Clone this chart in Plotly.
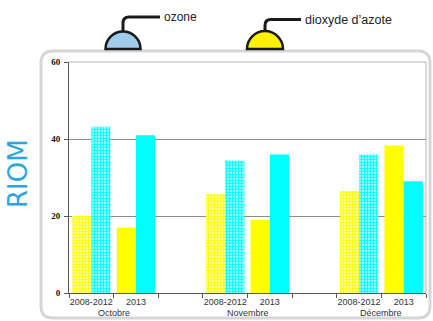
import plotly.graph_objects as go

# Monthly means at RIOM, µg/m³
months = ["Octobre", "Novembre", "Décembre"]
periods = ["2008-2012", "2013"]
no2_2008_2012 = [20, 25.7, 26.5]
no2_2013 = [17, 19, 38.3]
ozone_2008_2012 = [43.2, 34.4, 36]
ozone_2013 = [41, 36, 29]
y_ticks = [0, 20, 40, 60]

YELLOW = "#ffff00"
CYAN = "#00ffff"

# figure geometry (pixels) used to place decorations in paper coordinates
FIG_W, FIG_H = 433, 321
M_L, M_R, M_T, M_B = 69, 7, 62, 28
PW = FIG_W - M_L - M_R
PH = FIG_H - M_T - M_B


def px(x):
    return (x - M_L) / PW


def py(y):
    return (FIG_H - M_B - y) / PH


def path(points):
    # points: list of (cmd, [(x, y), ...]) in pixels
    out = []
    for cmd, pts in points:
        out.append(cmd + " ".join(f"{px(a):.5f},{py(b):.5f}" for a, b in pts))
    return " ".join(out)


# one slot per period, one empty slot between months
x_pos, no2_vals, oz_vals, shapes_pat, tick_text = [], [], [], [], []
for i, m in enumerate(months):
    for j, p in enumerate(periods):
        x_pos.append(3 * i + j + 0.5)
        tick_text.append(p)
        if p == "2013":
            no2_vals.append(no2_2013[i])
            oz_vals.append(ozone_2013[i])
            shapes_pat.append("")
        else:
            no2_vals.append(no2_2008_2012[i])
            oz_vals.append(ozone_2008_2012[i])
            shapes_pat.append(".")


def pattern(color):
    return dict(shape=shapes_pat, fgcolor=color, bgcolor="white",
                size=3, solidity=0.7, fillmode="replace")


fig = go.Figure()
fig.add_trace(go.Bar(x=x_pos, y=no2_vals, name="dioxyde d’azote",
                     marker=dict(color=YELLOW, line=dict(width=0), pattern=pattern(YELLOW))))
fig.add_trace(go.Bar(x=x_pos, y=oz_vals, name="ozone",
                     marker=dict(color=CYAN, line=dict(width=0), pattern=pattern(CYAN))))

shapes = []
# outer rounded frame
x0, x1, y0, y1, r = 41, 430, 51, 318, 12
shapes.append(dict(type="path", xref="paper", yref="paper", layer="below",
                   line=dict(color="#d6d6d6", width=3),
                   path=path([("M", [(x0 + r, y0)]), ("L", [(x1 - r, y0)]),
                              ("Q", [(x1, y0), (x1, y0 + r)]), ("L", [(x1, y1 - r)]),
                              ("Q", [(x1, y1), (x1 - r, y1)]), ("L", [(x0 + r, y1)]),
                              ("Q", [(x0, y1), (x0, y1 - r)]), ("L", [(x0, y0 + r)]),
                              ("Q", [(x0, y0), (x0 + r, y0)])])))
# thin plot border (top / right)
shapes.append(dict(type="path", xref="paper", yref="paper",
                   line=dict(color="#b4b4b4", width=1),
                   path=path([("M", [(M_L, M_T)]), ("L", [(FIG_W - M_R, M_T)]),
                              ("L", [(FIG_W - M_R, FIG_H - M_B)])])))


def dome(cx, base, rad, fill):
    k = 0.5523 * rad
    return dict(type="path", xref="paper", yref="paper",
                fillcolor=fill, line=dict(color="#1a1a1a", width=2.5),
                path=path([("M", [(cx - rad, base)]),
                           ("C", [(cx - rad, base - k), (cx - k, base - rad), (cx, base - rad)]),
                           ("C", [(cx + k, base - rad), (cx + rad, base - k), (cx + rad, base)]),
                           ("Z", [])]))


def leader(cx, top, ly, x_end):
    rr = 6
    return dict(type="path", xref="paper", yref="paper",
                line=dict(color="#1a1a1a", width=3),
                path=path([("M", [(cx, top)]), ("L", [(cx, ly + rr)]),
                           ("Q", [(cx, ly), (cx + rr, ly)]), ("L", [(x_end, ly)])]))


shapes.append(leader(123, 34, 17, 160))
shapes.append(leader(265, 33, 19.5, 301))
shapes.append(dome(123, 49, 17.5, "#9fcdec"))
shapes.append(dome(265, 49, 18, "#fff200"))

annotations = [
    dict(text="ozone", x=px(162), y=py(17), xref="paper", yref="paper",
         xanchor="left", yanchor="middle", showarrow=False,
         font=dict(family="Liberation Sans", size=12, color="#222")),
    dict(text="dioxyde d’azote", x=px(303), y=py(19.5), xref="paper", yref="paper",
         xanchor="left", yanchor="middle", showarrow=False,
         font=dict(family="Liberation Sans", size=12.5, color="#222")),
    dict(text="RIOM", x=px(18), y=py(174), xref="paper", yref="paper",
         xanchor="center", yanchor="middle", showarrow=False, textangle=-90,
         font=dict(family="DejaVu Sans", size=26, color="#2aa5de")),
]
for i, m in enumerate(months):
    annotations.append(dict(text=m, x=3 * i + 1, y=py(313), xref="x", yref="paper",
                            xanchor="center", yanchor="middle", showarrow=False,
                            font=dict(family="Liberation Sans", size=9, color="#333")))

fig.update_layout(
    width=FIG_W, height=FIG_H,
    margin=dict(l=M_L, r=M_R, t=M_T, b=M_B, pad=0),
    paper_bgcolor="white", plot_bgcolor="white",
    showlegend=False, barmode="group", bargap=0.14, bargroupgap=0,
    shapes=shapes, annotations=annotations,
    xaxis=dict(range=[0, 8], tickmode="array", tickvals=x_pos, ticktext=tick_text,
               ticks="", showgrid=False, zeroline=False,
               showline=True, linecolor="#555", linewidth=1,
               tickfont=dict(family="Liberation Sans", size=9, color="#333"),
               minor=dict(tickmode="linear", tick0=0, dtick=1, ticks="outside",
                          ticklen=4, tickcolor="#555", showgrid=False)),
    yaxis=dict(range=[0, 60], tickmode="array", tickvals=y_ticks,
               ticks="outside", ticklen=4, tickcolor="#555",
               showline=True, linecolor="#555", linewidth=1,
               showgrid=True, gridcolor="#8c8c8c", gridwidth=1, zeroline=False,
               tickfont=dict(family="Liberation Serif", size=9, color="#111", weight="bold"),
               ticklabelstandoff=2),
)

fig.write_html("out.html")
